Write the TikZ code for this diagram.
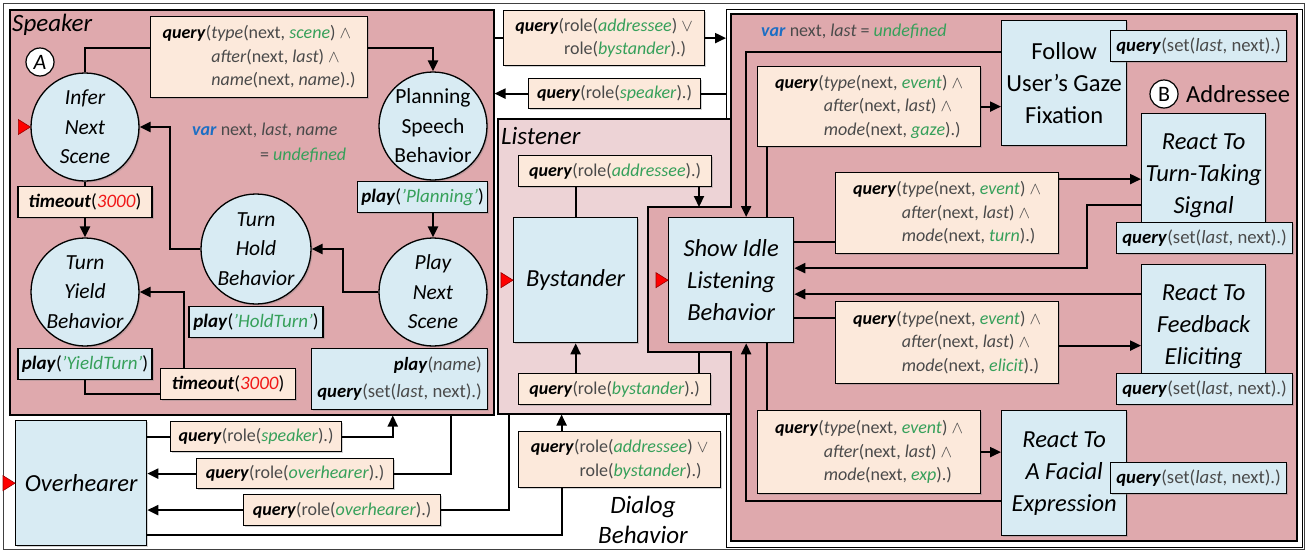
\documentclass[tikz,border=0pt]{standalone}
\usepackage{fontspec}
\setmainfont{Carlito}
\usepackage{xcolor}
\usetikzlibrary{arrows.meta, positioning, shadows}

\definecolor{spkpink}{HTML}{DFA9AD}
\definecolor{lstpink}{HTML}{EDD3D6}
\definecolor{nodeblue}{HTML}{D8EBF3}
\definecolor{peach}{HTML}{FCE9DB}
\definecolor{qgreen}{HTML}{36A05A}
\definecolor{qblue}{HTML}{1C6EC4}
\definecolor{qgray}{HTML}{4A4A4A}
\definecolor{qred}{HTML}{F01818}

\newcommand{\qry}{\textcolor{black}{\textbf{\textit{query}}}}
\newcommand{\ply}{\textcolor{black}{\textbf{\textit{play}}}}
\newcommand{\tmo}{\textbf{\textit{timeout}}}
\newcommand{\qgrn}[1]{\textcolor{qgreen}{\textit{#1}}}
\newcommand{\qfun}[1]{\textit{#1}}
\newcommand{\qind}{\phantom{\textbf{\textit{query}}(}}
\newcommand{\qfont}{\fontsize{18}{23.5}\selectfont}
\newcommand{\entrymark}[1]{\filldraw[fill=red, draw=red!60!black, line width=.6pt] (#1.west) -- ++(-12,-7.5) -- ++(0,15) -- cycle;}

\begin{document}
\begin{tikzpicture}[x=1pt, y=-1pt,
    region/.style={draw, line width=1.5pt, inner sep=0pt, anchor=north west},
    boxshadow/.style={drop shadow={shadow xshift=1.5pt, shadow yshift=-1.5pt, opacity=.35}},
    state/.style={circle, draw, fill=nodeblue, line width=1.3pt, inner sep=0pt, minimum size=108pt, align=center, font=\fontsize{21.5}{29.5}\selectfont\itshape, boxshadow},
    bigbox/.style={rectangle, draw, fill=nodeblue, line width=1.3pt, inner sep=1pt, minimum width=125pt, minimum height=125pt, anchor=north west, align=center, font=\fontsize{24.5}{32}\selectfont\itshape, boxshadow},
    qbox/.style={rectangle, draw, fill=peach, line width=1.2pt, inner sep=2pt, anchor=north west, align=left, text=qgray, font=\qfont, boxshadow},
    actbox/.style={qbox, fill=nodeblue, font=\fontsize{18.7}{27}\selectfont},
    sz/.style 2 args={minimum width=#1pt, minimum height=#2pt},
    title/.style={inner sep=0pt, font=\fontsize{25}{30}\selectfont\itshape},
    letter/.style={circle, draw, fill=white, line width=1.2pt, minimum size=28pt, inner sep=0pt, font=\fontsize{22}{22}\selectfont\itshape},
    wire/.style={line width=2.2pt},
    conn/.style={wire, -{Triangle[length=11pt, width=10pt]}},
]
\useasboundingbox (0,0) rectangle (1307,552);
\draw[line width=.8pt, black!75] (3,3) rectangle (1304,549);

% regions
\node[region, fill=spkpink, sz={484}{405}] (speaker) at (9,9) {};
\node[region, fill=white, line width=1pt, sz={576}{538}] (addrframe) at (726,9) {};
\node[region, fill=lstpink, sz={234}{295}] (listener) at (497,118) {};
\draw[line width=1.5pt, fill=spkpink] (731,14) -- (1297,14) -- (1297,541) -- (731,541) -- (731,352) -- (648,352) -- (648,207) -- (731,207) -- cycle;
\coordinate (addrin) at (699,207);
\coordinate (addrout) at (699,352);

\node[title, anchor=base west] (spktitle) at (12,31) {Speaker};
\node[letter] (markA) at (40,62) {A};
\node[title, anchor=base west] (lsttitle) at (501,144) {Listener};
\node[title, align=center] (dlgtitle) at (643,520) {Dialog\\Behavior};
\node[letter, font=\fontsize{22}{22}\selectfont] (markB) at (1164,94) {B};
\node[title, font=\fontsize{24.5}{24.5}\selectfont, anchor=west] (addrtitle) at (1186,94) {Addressee};

\node[inner sep=0pt, anchor=north west, align=left, text=qgray, font=\fontsize{18}{25}\selectfont] (spkvar) at (192,123) {\textcolor{qblue}{\textbf{\textit{var}}} next, \textit{last}, \textit{name}\\\hspace{68pt}= \qgrn{undefined}};
\node[inner sep=0pt, anchor=west, text=qgray, font=\fontsize{18}{25}\selectfont] (addrvar) at (761,31) {\textcolor{qblue}{\textbf{\textit{var}}} next, \textit{last} = \qgrn{undefined}};

% speaker
\node[state] (infer) at (85,127) {Infer\\Next\\Scene};
\node[state, font=\fontsize{21.5}{29.5}\selectfont] (plan) at (433,126) {Planning\\Speech\\Behavior};
\node[state] (playnext) at (433,292) {Play\\Next\\Scene};
\node[state, minimum size=110pt] (hold) at (256,249) {Turn\\Hold\\Behavior};
\node[state] (yield) at (85,292) {Turn\\Yield\\Behavior};

\node[qbox, sz={217}{81}] (qscene) at (150,16) {\qry(\qfun{type}(next, \qgrn{scene}) $\wedge$\\\qind\qfun{after}(next, \qfun{last}) $\wedge$\\\qind\qfun{name}(next, \qfun{name}).)};
\node[qbox, sz={134}{31}, text=black, font=\fontsize{19}{23}\selectfont, below=4pt of infer] (tmoa) {\tmo(\textcolor{qred}{\textit{3000}})};
\node[actbox, sz={130}{31}, text=black, font=\fontsize{19}{23}\selectfont] (pplan) at (357,181) {\ply(\qgrn{'Planning'})};
\node[actbox, sz={176}{61}, align=right] (pname) at (311,348) {\ply(\qfun{name})\\\qry(set(\qfun{last}, next).)};
\node[actbox, sz={134}{31}, text=black, font=\fontsize{19}{23}\selectfont, below=1pt of hold] (phold) {\ply(\qgrn{'HoldTurn'})};
\node[actbox, sz={134}{31}, text=black, font=\fontsize{19}{23}\selectfont, below=1pt of yield] (pyield) {\ply(\qgrn{'YieldTurn'})};
\node[qbox, sz={135}{31}, text=black, font=\fontsize{19}{23}\selectfont] (tmob) at (160,368) {\tmo(\textcolor{qred}{\textit{3000}})};

\draw[wire] (infer.north) |- ([yshift=9pt]qscene.west);
\draw[conn] ([yshift=9pt]qscene.east) -| (plan.north);
\draw[conn] (pplan.south -| plan.south) -- (playnext.north);
\draw[conn] (playnext.west) -- ++(-35,0) |- (hold.east);
\draw[conn] (hold.west) -- ++(-30,0) |- (infer.east);
\draw[wire] (infer.south) -- (tmoa.north);
\draw[conn] (tmoa.south) -- (yield.north);
\draw[wire] (pyield.south) |- ([yshift=-10pt]tmob.west);
\draw[conn] ([xshift=-44pt]tmob.north) |- (yield.east);

% speaker <-> listener
\node[qbox, sz={201}{55}] (qab) at (503,10) {\qry(role(\qgrn{addressee}) $\vee$\\\qind role(\qgrn{bystander}).)};
\node[qbox, sz={172}{30}] (qspk) at (528,78) {\qry(role(\qgrn{speaker}).)};
\draw[wire] (qab.west -| speaker.east) -- (qab.west);
\draw[conn] (qab.east) -- (qab.east -| addrframe.west);
\draw[wire] (qspk.east -| addrframe.west) -- (qspk.east);
\draw[conn] (qspk.west) -- (qspk.west -| speaker.east);

% listener
\node[bigbox, minimum width=124pt] (byst) at (513,217) {Bystander};
\node[bigbox] (idle) at (668,217) {Show Idle\\Listening\\Behavior};
\node[qbox, sz={193}{31}] (qadd) at (518,155) {\qry(role(\qgrn{addressee}).)};
\node[qbox, sz={192}{31}] (qbys) at (518,373) {\qry(role(\qgrn{bystander}).)};
\draw[wire] (byst.north) -- (byst.north |- qadd.south);
\draw[conn] (qadd.south -| addrin) -- (addrin);
\draw[wire] (addrout) -- (addrout |- qbys.north);
\draw[conn] (qbys.north -| byst.south) -- (byst.south);

% overhearer
\node[bigbox, minimum width=131pt] (overh) at (15,420) {Overhearer};
\node[qbox, sz={171}{30}] (qspkb) at (170,421) {\qry(role(\qgrn{speaker}).)};
\node[qbox, sz={197}{30}] (qovha) at (196,458) {\qry(role(\qgrn{overhearer}).)};
\node[qbox, sz={197}{31}] (qovhb) at (243,494) {\qry(role(\qgrn{overhearer}).)};
\node[qbox, sz={202}{56}] (qabb) at (518,431) {\qry(role(\qgrn{addressee}) $\vee$\\\qind role(\qgrn{bystander}).)};
\coordinate (spkin) at ([xshift=141pt]speaker.south);
\coordinate (spkout) at ([xshift=199pt]speaker.south);
\coordinate (lstout) at ([xshift=-106pt]listener.south);
\coordinate (ovhout) at ([yshift=-52pt]overh.east);
\coordinate (abdown) at ([xshift=-58pt]qabb.south);
\coordinate (abup) at ([xshift=-58pt]qabb.north);
\draw[wire] (qspkb.west -| overh.east) -- (qspkb.west);
\draw[conn] (qspkb.east) -| (spkin);
\draw[wire] (spkout) |- (qovha.east);
\draw[conn] (qovha.west) -- (qovha.west -| overh.east);
\draw[wire] (lstout) |- (qovhb.east);
\draw[conn] (qovhb.west) -- (qovhb.west -| overh.east);
\draw[wire] (ovhout) -| (abdown);
\draw[conn] (abup) -- (abup |- listener.south);

% addressee
\node[bigbox, font=\fontsize{24.5}{32}\selectfont] (follow) at (1001,20) {Follow\\User's Gaze\\Fixation};
\node[actbox, sz={176}{31}] (setf) at (1110,30) {\qry(set(\qfun{last}, next).)};
\node[qbox, sz={223}{80}] (qgaze) at (757,66) {\qry(\qfun{type}(next, \qgrn{event}) $\wedge$\\\qind\qfun{after}(next, \qfun{last}) $\wedge$\\\qind\qfun{mode}(next, \qgrn{gaze}).)};
\node[bigbox, minimum width=124pt] (turn) at (1141,113) {React To\\Turn-Taking\\Signal};
\node[actbox, sz={176}{31}] (sett) at (1116,222) {\qry(set(\qfun{last}, next).)};
\node[qbox, sz={223}{81}] (qturn) at (835,172) {\qry(\qfun{type}(next, \qgrn{event}) $\wedge$\\\qind\qfun{after}(next, \qfun{last}) $\wedge$\\\qind\qfun{mode}(next, \qgrn{turn}).)};
\node[bigbox, minimum width=124pt] (feed) at (1141,264) {React To\\Feedback\\Eliciting};
\node[actbox, sz={176}{31}] (sete) at (1116,373) {\qry(set(\qfun{last}, next).)};
\node[qbox, sz={223}{82}] (qelic) at (835,301) {\qry(\qfun{type}(next, \qgrn{event}) $\wedge$\\\qind\qfun{after}(next, \qfun{last}) $\wedge$\\\qind\qfun{mode}(next, \qgrn{elicit}).)};
\node[bigbox] (facial) at (1001,410) {React To\\A Facial\\Expression};
\node[actbox, sz={176}{31}] (setx) at (1110,462) {\qry(set(\qfun{last}, next).)};
\node[qbox, sz={223}{83}] (qexp) at (757,410) {\qry(\qfun{type}(next, \qgrn{event}) $\wedge$\\\qind\qfun{after}(next, \qfun{last}) $\wedge$\\\qind\qfun{mode}(next, \qgrn{exp}).)};

\coordinate (idlein) at ([xshift=15pt]idle.north);
\coordinate (idleout) at ([xshift=36pt]idle.north);
\coordinate (idlebin) at ([xshift=15pt]idle.south);
\coordinate (idlebout) at ([xshift=36pt]idle.south);
\coordinate (followout) at ([yshift=31pt]follow.west);
\coordinate (turnq) at ([yshift=38pt]idle.east);
\coordinate (turnqout) at ([yshift=34pt]qturn.east);
\coordinate (turnout) at ([yshift=-29pt]turn.west);
\coordinate (turnback) at ([yshift=12pt]idle.east);
\coordinate (feedout) at ([yshift=33pt]feed.west);
\coordinate (elicq) at ([yshift=-38pt]idle.east);
\coordinate (elicqout) at ([yshift=-3pt]qelic.east);
\coordinate (facialout) at ([yshift=-28pt]facial.west);

\draw[wire] (idleout) -- (idleout |- qgaze.south);
\draw[conn] (qgaze.east) -- (qgaze.east -| follow.west);
\draw[conn] (followout) -| (idlein);
\draw[wire] (turnq) -- (turnq -| qturn.west);
\draw[conn] (turnqout) -- (turnqout -| turn.west);
\draw[conn] (turnout) -- ++(-54,0) |- (turnback);
\draw[conn] (feedout) -- (feedout -| idle.east);
\draw[wire] (elicq) -- (elicq -| qelic.west);
\draw[conn] (elicqout) -- (elicqout -| feed.west);
\draw[wire] (idlebout) -- (idlebout |- qexp.north);
\draw[conn] (qexp.east) -- (qexp.east -| facial.west);
\draw[conn] (facialout) -| (idlebin);

\entrymark{infer}
\entrymark{byst}
\entrymark{idle}
\entrymark{overh}
\end{tikzpicture}
\end{document}
